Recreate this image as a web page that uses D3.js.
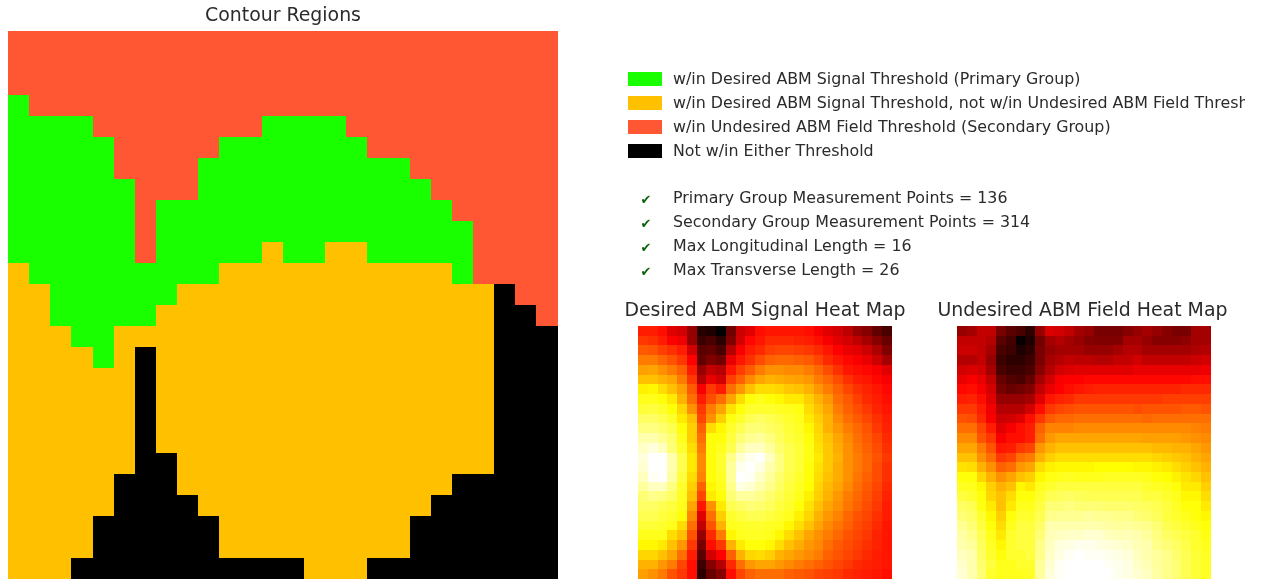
<!DOCTYPE html>
<html>
<head>
<meta charset="utf-8">
<script src="https://cdn.jsdelivr.net/npm/d3@7/dist/d3.min.js"></script>
<style>
html,body{margin:0;padding:0;background:#fff;overflow:hidden}
svg{display:block;filter:blur(0.55px)}
text{font-family:"DejaVu Sans",sans-serif;fill:#2b2b2b}
</style>
</head>
<body>
<svg id="c" width="1262" height="579"></svg>
<script>
const regionKeys = ["G","O","R","K"];
const regionColors = ["#1aff00","#ffc000","#ff5733","#000000"];
const regionLabels = [
  "w/in Desired ABM Signal Threshold (Primary Group)",
  "w/in Desired ABM Signal Threshold, not w/in Undesired ABM Field Threshold",
  "w/in Undesired ABM Field Threshold (Secondary Group)",
  "Not w/in Either Threshold"
];
const statLabels = [
  "Primary Group Measurement Points = 136",
  "Secondary Group Measurement Points = 314",
  "Max Longitudinal Length = 16",
  "Max Transverse Length = 26"
];
const regionRows = [
"RRRRRRRRRRRRRRRRRRRRRRRRRR",
"RRRRRRRRRRRRRRRRRRRRRRRRRR",
"RRRRRRRRRRRRRRRRRRRRRRRRRR",
"GRRRRRRRRRRRRRRRRRRRRRRRRR",
"GGGGRRRRRRRRGGGGRRRRRRRRRR",
"GGGGGRRRRRGGGGGGGRRRRRRRRR",
"GGGGGRRRRGGGGGGGGGGRRRRRRR",
"GGGGGGRRRGGGGGGGGGGGRRRRRR",
"GGGGGGRGGGGGGGGGGGGGGRRRRR",
"GGGGGGRGGGGGGGGGGGGGGGRRRR",
"GGGGGGRGGGGGOGGOOGGGGGRRRR",
"OGGGGGGGGGOOOOOOOOOOOGRRRR",
"OOGGGGGGOOOOOOOOOOOOOOOKRR",
"OOGGGGGOOOOOOOOOOOOOOOOKKR",
"OOOGGOOOOOOOOOOOOOOOOOOKKK",
"OOOOGOKOOOOOOOOOOOOOOOOKKK",
"OOOOOOKOOOOOOOOOOOOOOOOKKK",
"OOOOOOKOOOOOOOOOOOOOOOOKKK",
"OOOOOOKOOOOOOOOOOOOOOOOKKK",
"OOOOOOKOOOOOOOOOOOOOOOOKKK",
"OOOOOOKKOOOOOOOOOOOOOOOKKK",
"OOOOOKKKOOOOOOOOOOOOOKKKKK",
"OOOOOKKKKOOOOOOOOOOOKKKKKK",
"OOOOKKKKKKOOOOOOOOOKKKKKKK",
"OOOOKKKKKKOOOOOOOOOKKKKKKK",
"OOOKKKKKKKKKKKOOOKKKKKKKKK"
];
const desiredRows = [
[38,38,36,30,28,20,5,4,0,15,27,30,36,37,37,37,37,36,33,30,28,25,20,18,13,10],
[42,41,38,34,32,20,8,10,6,17,28,35,37,40,40,40,39,38,36,33,30,28,25,22,18,14],
[47,46,43,41,38,28,12,13,10,24,33,38,40,43,44,44,43,42,40,37,34,31,30,27,23,17],
[52,52,49,46,42,34,13,17,15,31,37,41,45,48,49,49,48,47,44,40,37,35,33,31,27,22],
[57,58,55,52,48,38,20,26,24,37,43,47,52,55,55,54,54,52,49,45,41,37,36,35,33,30],
[62,62,60,58,52,42,24,31,28,43,48,54,58,60,59,58,57,56,52,49,45,41,38,37,35,33],
[69,70,66,62,57,47,33,42,38,50,56,62,66,66,65,63,62,60,56,52,48,44,41,39,37,35],
[74,74,72,68,60,50,38,45,50,58,66,72,74,72,70,68,68,64,60,56,50,47,43,40,38,36],
[77,78,76,72,65,55,42,52,58,67,72,76,76,76,75,74,73,66,62,58,52,48,45,42,39,37],
[82,82,80,76,68,62,44,55,64,73,76,80,82,80,78,76,74,68,64,60,54,50,47,44,41,38],
[85,85,83,80,72,64,48,66,70,76,80,84,84,82,80,77,75,70,65,60,56,52,49,46,42,39],
[90,90,87,83,74,64,50,72,72,78,84,87,88,85,81,78,76,72,66,62,58,54,50,47,44,40],
[93,95,92,84,76,66,52,72,74,80,88,92,92,88,83,80,77,73,67,63,59,55,51,48,45,41],
[95,99,99,90,80,68,54,72,76,86,94,97,100,92,85,80,77,73,68,63,60,55,52,49,46,42],
[94,99,100,90,80,68,54,72,76,88,97,100,96,90,85,80,77,72,67,63,59,55,52,49,45,41],
[92,98,99,89,78,66,53,72,75,88,99,98,93,88,83,79,76,72,66,62,59,55,51,48,45,41],
[88,92,92,85,76,64,48,70,74,86,96,94,90,86,82,78,75,71,65,61,58,54,50,47,44,40],
[84,86,85,82,75,62,44,68,72,84,88,88,86,83,80,77,74,69,64,60,56,52,49,46,43,39],
[82,82,80,78,74,58,37,55,68,80,82,84,83,81,78,76,72,67,62,58,55,51,48,45,42,38],
[80,80,78,76,72,54,30,50,64,76,78,80,80,78,76,74,69,65,60,56,53,49,46,44,41,38],
[77,77,76,74,66,50,26,46,60,74,75,76,76,75,74,70,66,62,58,54,51,48,45,43,40,37],
[74,74,74,66,62,46,20,40,52,70,74,75,75,74,70,66,62,58,55,52,49,46,44,42,39,37],
[70,70,68,62,56,42,16,36,42,60,68,72,72,70,66,62,59,56,54,50,47,45,43,41,39,37],
[65,65,62,58,50,38,12,28,34,48,60,65,66,64,60,58,56,54,52,48,46,44,42,40,38,37],
[60,60,56,52,44,36,8,18,24,40,50,56,58,58,56,54,52,50,48,46,44,42,40,39,38,37],
[57,55,52,46,42,36,6,14,18,36,44,48,50,50,50,48,47,46,44,43,42,40,39,38,37,36]
];
const undesiredRows = [
[20,22,26,26,16,12,10,6,20,29,28,26,22,20,16,16,16,18,20,22,20,18,16,16,22,22],
[26,26,26,24,12,9,1,4,15,22,24,22,20,18,17,17,17,22,22,20,18,18,18,19,22,22],
[27,27,26,22,10,8,4,6,16,20,22,22,22,20,20,20,22,24,24,22,22,22,22,22,23,24],
[24,24,26,20,8,6,6,8,16,22,24,26,25,25,24,24,26,26,28,26,26,26,26,26,27,28],
[28,29,28,22,10,8,8,10,18,24,28,29,30,30,30,30,30,30,31,31,31,31,31,31,31,32],
[31,33,31,26,14,11,10,13,22,28,33,34,34,35,35,35,35,35,35,35,35,35,35,35,36,36],
[35,36,33,28,16,14,15,17,26,31,34,36,37,38,39,39,39,39,39,39,39,39,39,40,40,40],
[38,39,36,30,20,20,20,22,30,37,39,40,42,42,42,42,42,42,42,42,42,43,43,43,43,43],
[42,42,38,32,24,24,24,28,36,42,44,45,46,46,46,46,46,46,45,46,46,46,46,47,47,46],
[46,45,40,33,27,28,30,36,42,47,49,49,50,50,50,50,50,50,50,49,50,50,50,50,50,50],
[50,50,44,38,30,33,36,38,48,53,53,53,54,54,54,54,54,54,54,54,54,54,54,54,53,52],
[54,54,46,42,33,36,36,38,50,56,58,58,58,58,58,58,58,58,58,57,57,57,57,56,55,54],
[58,58,52,46,37,38,42,44,56,60,62,62,62,62,62,62,62,62,62,62,61,61,60,60,58,56],
[62,62,55,50,42,44,50,52,60,64,66,66,66,66,66,66,66,66,66,66,65,64,63,62,60,58],
[67,66,60,55,48,50,56,58,66,69,70,70,70,70,71,71,71,71,70,70,69,68,66,64,62,60],
[72,72,65,60,55,58,62,64,70,73,74,75,74,74,74,75,75,75,75,74,72,71,69,67,65,62],
[75,74,70,64,60,62,70,68,74,76,78,78,78,78,78,78,78,78,78,76,75,74,72,68,68,64],
[78,76,72,65,62,66,72,72,76,80,81,82,81,80,80,80,80,80,80,78,78,76,74,70,70,66],
[82,80,73,68,62,68,74,74,78,84,84,85,84,84,84,83,83,83,82,81,80,78,75,72,72,68],
[84,82,76,70,64,72,76,76,80,86,87,87,87,88,87,87,86,86,84,83,81,78,76,74,72,70],
[87,84,78,72,66,74,78,78,82,90,90,90,90,90,90,89,88,88,87,86,84,80,78,76,74,72],
[89,86,80,74,68,76,78,78,84,91,92,93,93,94,94,92,91,91,90,88,85,82,80,78,76,73],
[90,88,81,75,70,76,78,78,86,92,95,96,97,97,96,95,94,93,91,90,86,84,82,79,76,74],
[92,90,82,76,72,76,76,78,86,93,96,98,99,98,98,97,96,95,92,90,88,86,83,80,77,75],
[93,90,83,78,74,74,76,76,88,94,98,100,100,100,100,98,97,96,93,91,88,86,84,80,77,75],
[94,90,84,76,74,74,74,75,88,95,98,100,100,100,100,99,97,96,94,92,89,86,84,80,77,75]
];

const svg = d3.select("#c");
const idx = d3.range(26);
const regionColor = d3.scaleOrdinal(regionKeys, regionColors);
const hot = d3.scaleLinear().domain([0,34,71,99]).range(["#000000","#ff0000","#ffff00","#ffffff"]).clamp(true);

function grid(rows, x0, x1, y0, y1, fill){
  const x = d3.scaleBand().domain(idx).range([x0,x1]);
  const y = d3.scaleBand().domain(idx).range([y0,y1]);
  const g = svg.append("g").attr("shape-rendering","crispEdges");
  g.selectAll("g").data(rows).join("g")
    .attr("transform",(d,i)=>`translate(0,${y(i)})`)
    .selectAll("rect").data(d=>Array.from(d)).join("rect")
    .attr("x",(d,i)=>x(i)).attr("width",x.bandwidth()+0.4).attr("height",y.bandwidth()+0.4)
    .attr("fill",fill);
}
grid(regionRows,8,557.5,31.4,579,d=>regionColor(d));
grid(desiredRows,638,891.5,326,579,d=>hot(d));
grid(undesiredRows,957,1210.5,326,579,d=>hot(d));

const titleSize = 18.9;
svg.append("text").attr("x",283).attr("y",21).attr("text-anchor","middle").attr("font-size",titleSize).text("Contour Regions");
svg.append("text").attr("x",765).attr("y",316).attr("text-anchor","middle").attr("font-size",titleSize).text("Desired ABM Signal Heat Map");
svg.append("text").attr("x",1082.5).attr("y",316).attr("text-anchor","middle").attr("font-size",titleSize).text("Undesired ABM Field Heat Map");

const clip = svg.append("clipPath").attr("id","lc");
clip.append("rect").attr("x",620).attr("y",60).attr("width",625).attr("height",230);

const labelSize = 15.85;
const legY = d3.scalePoint().domain(d3.range(4)).range([79,151]);
const leg = svg.append("g").attr("clip-path","url(#lc)");
const lg = leg.selectAll("g").data(regionLabels).join("g");
lg.append("rect").attr("x",628).attr("y",(d,i)=>legY(i)-7).attr("width",34).attr("height",14)
  .attr("fill",(d,i)=>regionColors[i]);
lg.append("text").attr("x",673).attr("y",(d,i)=>legY(i)+5.2).attr("font-size",labelSize).text(d=>d);

const statY = d3.scalePoint().domain(d3.range(4)).range([198,269.5]);
const sg = svg.append("g").selectAll("g").data(statLabels).join("g");
sg.append("text").attr("x",646).attr("y",(d,i)=>statY(i)+6).attr("text-anchor","middle").attr("font-size",13)
  .style("fill","#0a640a").text("\u2714");
sg.append("text").attr("x",673).attr("y",(d,i)=>statY(i)+5.2).attr("font-size",labelSize).text(d=>d);
</script>
</body>
</html>
